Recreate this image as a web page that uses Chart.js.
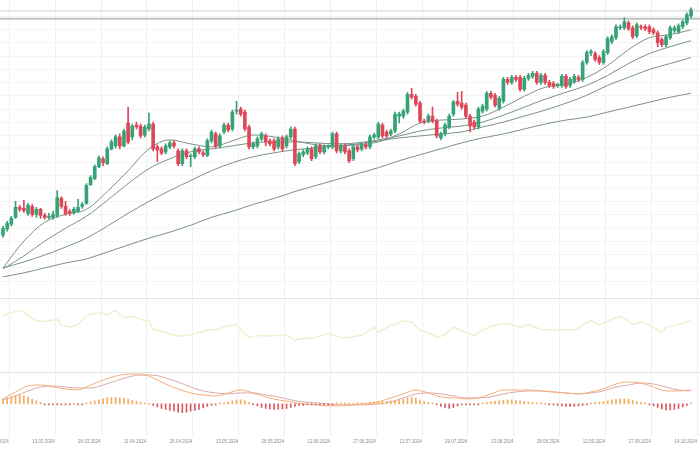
<!DOCTYPE html>
<html>
<head>
<meta charset="utf-8">
<title>XAU/USD D1</title>
<script src="https://cdn.jsdelivr.net/npm/chart.js@4.4.1/dist/chart.umd.min.js"></script>
<style>
  html, body { margin: 0; padding: 0; background: #fff; overflow: hidden; }
  #wrap { position: relative; width: 700px; height: 450px; overflow: hidden; }
  #chart { position: absolute; left: -20px; top: 0; }
</style>
</head>
<body>
<div id="wrap"><canvas id="chart" width="740" height="450"></canvas></div>
<script>
(function () {
  'use strict';

  // daily candles (index 0 = first visible day)
  var open = [2019,2037,2052,2073,2103,2100,2085,2106,2082,2097,2079,2073,2073,2079,2130,2106,2091,2088,2091,2106,
    2115,2172,2190,2226,2250,2235,2280,2289,2316,2289,2358,2316,2352,2349,2322,2340,2355,2286,2280,2271,
    2286,2298,2274,2235,2274,2256,2256,2280,2268,2259,2304,2325,2289,2331,2352,2340,2394,2400,2391,2346,
    2286,2289,2310,2319,2304,2304,2286,2313,2289,2316,2340,2241,2262,2268,2280,2256,2289,2271,2286,2286,
    2325,2274,2289,2274,2250,2286,2280,2292,2286,2316,2316,2352,2331,2325,2334,2379,2379,2391,2445,2439,
    2418,2364,2364,2379,2364,2313,2325,2346,2385,2424,2418,2412,2379,2361,2346,2394,2400,2448,2442,2403,
    2424,2490,2481,2496,2496,2460,2493,2499,2508,2481,2502,2481,2478,2472,2472,2499,2472,2484,2496,2490,
    2541,2571,2568,2556,2541,2571,2604,2616,2646,2646,2661,2646,2622,2649,2649,2649,2640,2631,2610,2595,
    2616,2637,2634,2649,2661,2682];
  var high = [2046,2061,2076,2121,2109,2124,2115,2112,2103,2100,2085,2085,2091,2154,2136,2121,2097,2103,2127,2118,
    2175,2199,2232,2259,2256,2286,2307,2322,2325,2340,2406,2355,2361,2355,2352,2388,2361,2292,2286,2295,
    2304,2304,2280,2280,2280,2265,2286,2286,2274,2310,2337,2331,2325,2358,2358,2397,2424,2406,2397,2352,
    2301,2316,2331,2325,2310,2310,2316,2319,2322,2346,2346,2271,2277,2286,2286,2295,2295,2292,2292,2331,
    2331,2295,2295,2280,2292,2292,2298,2298,2322,2328,2361,2358,2337,2340,2391,2391,2400,2451,2463,2445,
    2424,2370,2385,2406,2370,2331,2358,2385,2427,2451,2454,2418,2385,2367,2406,2415,2454,2454,2448,2439,
    2496,2496,2502,2502,2502,2499,2508,2514,2514,2508,2508,2487,2484,2478,2505,2505,2496,2505,2502,2547,
    2577,2580,2574,2562,2580,2619,2625,2655,2655,2676,2667,2652,2661,2655,2655,2655,2646,2637,2616,2625,
    2652,2652,2658,2670,2691,2706];
  var low = [2013,2031,2046,2070,2091,2088,2079,2076,2073,2070,2067,2067,2067,2073,2100,2079,2079,2082,2088,2100,
    2112,2169,2187,2223,2229,2232,2277,2283,2280,2286,2295,2307,2340,2313,2316,2334,2274,2241,2262,2265,
    2280,2283,2229,2229,2250,2226,2250,2265,2256,2256,2298,2283,2283,2325,2331,2334,2385,2379,2334,2280,
    2280,2283,2304,2289,2289,2274,2280,2274,2283,2310,2229,2235,2256,2262,2244,2250,2265,2265,2280,2280,
    2268,2268,2265,2238,2244,2271,2274,2280,2280,2310,2310,2313,2313,2319,2328,2358,2373,2385,2430,2409,
    2358,2355,2358,2358,2313,2307,2319,2340,2379,2409,2400,2373,2331,2340,2340,2388,2394,2430,2406,2397,
    2418,2475,2475,2484,2454,2454,2487,2493,2475,2475,2475,2466,2463,2466,2466,2463,2466,2478,2484,2484,
    2535,2562,2544,2535,2535,2565,2598,2610,2640,2640,2637,2613,2616,2640,2637,2628,2625,2589,2589,2589,
    2610,2631,2628,2643,2655,2676];
  var close = [2040,2055,2070,2103,2097,2094,2109,2082,2097,2079,2073,2076,2082,2133,2106,2085,2085,2097,2103,2112,
    2169,2193,2226,2253,2238,2280,2301,2316,2289,2334,2301,2349,2346,2319,2346,2355,2280,2277,2268,2289,
    2298,2289,2235,2274,2256,2259,2280,2271,2262,2304,2331,2289,2319,2352,2337,2391,2397,2385,2340,2286,
    2295,2310,2325,2301,2295,2280,2310,2280,2316,2340,2235,2265,2271,2280,2250,2289,2271,2286,2289,2325,
    2274,2289,2271,2244,2286,2277,2292,2286,2316,2322,2355,2319,2319,2334,2385,2385,2394,2445,2436,2415,
    2364,2361,2379,2364,2319,2325,2352,2379,2421,2415,2406,2379,2349,2346,2400,2409,2448,2436,2412,2433,
    2490,2481,2496,2490,2460,2493,2502,2508,2481,2502,2481,2472,2469,2475,2499,2469,2490,2499,2490,2541,
    2571,2574,2550,2541,2574,2613,2619,2649,2649,2664,2643,2619,2655,2646,2643,2634,2631,2601,2595,2619,
    2646,2646,2652,2664,2685,2700];

  // moving averages, read every 5th day
  var maIdx = [0,5,10,15,20,25,30,35,40,45,50,55,60,65,70,75,80,85,90,95,100,105,110,115,120,125,130,135,140,145,150,155,160,165];
  var maFast = [1920,2001,2058,2082,2097,2151,2214,2280,2307,2295,2286,2304,2322,2316,2304,2292,2289,2292,2301,2325,
    2358,2367,2370,2379,2406,2439,2466,2475,2496,2532,2580,2616,2625,2640];
  var maMid = [1917,1956,2001,2040,2076,2124,2175,2220,2250,2271,2280,2289,2298,2301,2301,2298,2295,2298,2307,2319,
    2334,2343,2349,2361,2382,2406,2430,2451,2472,2502,2538,2568,2589,2607];
  var maSlow = [1920,1938,1959,1983,2010,2046,2085,2121,2154,2184,2214,2238,2256,2268,2277,2283,2289,2295,2304,2313,
    2319,2325,2331,2346,2361,2379,2397,2418,2442,2472,2496,2520,2538,2556];
  var maLong = [1893,1905,1920,1935,1947,1968,1989,2010,2028,2049,2073,2091,2112,2130,2151,2169,2187,2205,2223,2244,
    2262,2280,2298,2313,2325,2340,2355,2367,2376,2391,2406,2421,2436,2448];

  // horizontal price levels drawn across the chart
  var levels = [2697, 2673];

  // RSI
  var rsiIdx = [0,2,4,5,6,8,10,11,13,14,16,18,20,23,25,27,28,29,31,34,35,36,39,42,45,47,50,51,53,56,
    57,59,61,64,68,70,71,75,78,81,83,86,88,89,90,93,94,96,98,100,102,104,106,108,111,113,114,117,119,121,
    124,126,129,132,135,137,139,141,143,146,148,149,151,153,155,158,159,162,165];
  var rsiVal = [77,81,84,82,77,70,69,70,72,64,61,65,77,81,78,84,78,74,76,70,70,58,54,49,51,54,58,57,62,65,
    58,47,50,49,51,43,45,47,53,47,47,50,57,61,54,64,65,70,68,57,54,47,51,61,54,49,54,62,65,66,
    61,65,58,57,58,57,64,70,64,72,76,73,65,68,64,54,61,65,70];

  // MACD
  var macdIdx = [0,3,6,9,12,15,18,21,24,27,30,33,36,39,42,45,48,51,54,57,60,63,66,69,72,75,78,81,84,87,
    90,93,96,99,102,105,108,111,114,117,120,123,126,129,132,135,138,141,144,147,150,153,156,159,162,165];
  var macdLine = [10,24,36,38,34,30,28,38,48,56,60,60,52,40,30,22,18,16,22,28,22,14,8,4,0,-2,-4,-4,-2,0,
    4,12,20,28,22,14,12,10,12,20,28,28,28,26,24,22,20,24,30,40,44,42,34,26,26,28];
  var signalLine = [8,16,26,34,36,34,32,32,38,46,54,58,58,52,44,34,26,22,20,22,22,18,14,8,4,2,0,-2,-2,-2,
    0,4,12,20,22,20,16,12,12,14,20,24,26,26,24,22,20,22,26,34,38,42,40,34,28,26];
  var macdHist = [10,12,14,16,18,16,14,9,6,3,-1,-1,-1,-1,-1,-1,-1,0,-1,-1,
    2,4,6,8,10,12,13,13,12,11,9,7,5,3,1,0,-3,-6,-9,-11,
    -13,-15,-17,-18,-17,-15,-13,-11,-8,-5,-3,-1,1,2,4,6,8,8,6,3,
    -1,-4,-7,-9,-10,-11,-11,-10,-9,-7,-5,-3,-3,-2,-2,-2,-2,-1,-1,-1,
    1,1,1,0,0,1,1,2,3,4,5,5,5,6,7,8,9,12,13,11,
    8,5,3,1,-2,-5,-8,-9,-7,-4,-2,-1,-1,-2,-1,1,3,4,5,6,
    7,8,8,7,6,5,4,3,2,1,0,-1,-2,-3,-4,-5,-5,-5,-4,-3,
    -1,2,3,4,5,6,8,9,10,10,9,7,5,3,1,-2,-4,-7,-10,-12,
    -12,-11,-9,-6,-3,1];

  // x axis labels
  var xTickIdx = [-4,7,18,29,40,51,62,73,84,95,106,117,128,139,150,161];
  var xTickLabels = ['27.02.2024','13.03.2024','26.03.2024','11.04.2024','26.04.2024','13.05.2024','28.05.2024',
    '12.06.2024','27.06.2024','12.07.2024','29.07.2024','13.08.2024','28.08.2024','12.09.2024','27.09.2024','14.10.2024'];

  var X_MIN = -5.52, X_MAX = 171.94;
  var GREEN = '#36a275', RED = '#de4757';
  var MA_COLOR = '#7a9186';

  var candleColors = close.map(function (c, i) { return c >= open[i] ? GREEN : RED; });

  function pts(idx, vals) {
    return vals.map(function (v, k) { return { x: idx[k], y: v }; });
  }

  var wickData = low.map(function (l, i) { return { x: i, y: [l, high[i]] }; });
  var bodyData = open.map(function (o, i) { return { x: i, y: [o, close[i]] }; });
  var histData = macdHist.map(function (v, i) { return { x: i, y: v }; });

  function maSet(vals) {
    return {
      type: 'line', data: pts(maIdx, vals), yAxisID: 'y',
      borderColor: MA_COLOR, borderWidth: 1, pointRadius: 0,
      cubicInterpolationMode: 'monotone', order: 2
    };
  }
  function levelSet(v, color, width) {
    return {
      type: 'line', data: [{ x: X_MIN, y: v }, { x: X_MAX, y: v }], yAxisID: 'y',
      borderColor: color, borderWidth: width, pointRadius: 0, order: 3
    };
  }

  var datasets = [
    { type: 'bar', data: wickData, yAxisID: 'y', backgroundColor: candleColors,
      barThickness: 1, grouped: false, order: 1 },
    { type: 'bar', data: bodyData, yAxisID: 'y', backgroundColor: candleColors,
      barThickness: 3, minBarLength: 1, grouped: false, order: 0 },
    maSet(maFast), maSet(maMid), maSet(maSlow), maSet(maLong),
    levelSet(levels[0], '#d0d4d4', 1),
    levelSet(levels[1], '#bcc3c3', 2),
    { type: 'line', data: pts(rsiIdx, rsiVal), yAxisID: 'rsi',
      borderColor: '#f3eed1', borderWidth: 1.5, pointRadius: 0, tension: 0, order: 2 },
    { type: 'bar', data: histData, yAxisID: 'macd', grouped: false,
      backgroundColor: macdHist.map(function (v) { return v >= 0 ? '#f4ad5c' : '#d95a62'; }),
      barThickness: 1, minBarLength: 1, order: 1 },
    { type: 'line', data: pts(macdIdx, macdLine), yAxisID: 'macd',
      borderColor: '#f4ae7a', borderWidth: 1, pointRadius: 0, cubicInterpolationMode: 'monotone', order: 2 },
    { type: 'line', data: pts(macdIdx, signalLine), yAxisID: 'macd',
      borderColor: '#dcaaa6', borderWidth: 1, pointRadius: 0, cubicInterpolationMode: 'monotone', order: 2 }
  ];

  function hiddenAxis(extra) {
    var base = {
      position: 'right', stack: 'panes', display: true,
      ticks: { display: false }, border: { display: false }
    };
    for (var k in extra) base[k] = extra[k];
    return base;
  }

  new Chart(document.getElementById('chart'), {
    type: 'bar',
    data: { datasets: datasets },
    options: {
      responsive: false,
      animation: false,
      devicePixelRatio: 1,
      layout: { padding: { bottom: 3 } },
      plugins: { legend: { display: false }, tooltip: { enabled: false } },
      scales: {
        x: {
          type: 'linear', min: X_MIN, max: X_MAX, offset: false,
          grid: { color: '#f0f0f0', drawTicks: false },
          border: { display: false },
          afterBuildTicks: function (scale) {
            scale.ticks = xTickIdx.map(function (v) { return { value: v }; });
          },
          ticks: {
            align: 'start', maxRotation: 0, autoSkip: false, padding: 3,
            color: '#8c8c8c', font: { family: 'Liberation Sans', size: 4.5 },
            callback: function (v, i) { return xTickLabels[i]; }
          }
        },
        y: hiddenAxis({
          stackWeight: 301, min: 1827, max: 2730,
          grid: {
            drawTicks: false,
            color: function (ctx) {
              var v = ctx.tick && ctx.tick.value;
              return (v === 1827 || v === 2730) ? 'rgba(0,0,0,0)' : '#f4f4f4';
            }
          },
          ticks: { display: false, stepSize: 40 }
        }),
        rsi: hiddenAxis({
          stackWeight: 74, min: 0, max: 100,
          grid: { drawTicks: false, color: '#e4e4e4' },
          afterBuildTicks: function (scale) { scale.ticks = [{ value: 100 }]; }
        }),
        macd: hiddenAxis({
          stackWeight: 64, min: -64, max: 64,
          grid: { drawTicks: false, color: '#e4e4e4' },
          afterBuildTicks: function (scale) { scale.ticks = [{ value: 64 }]; }
        })
      }
    }
  });
})();
</script>
</body>
</html>
